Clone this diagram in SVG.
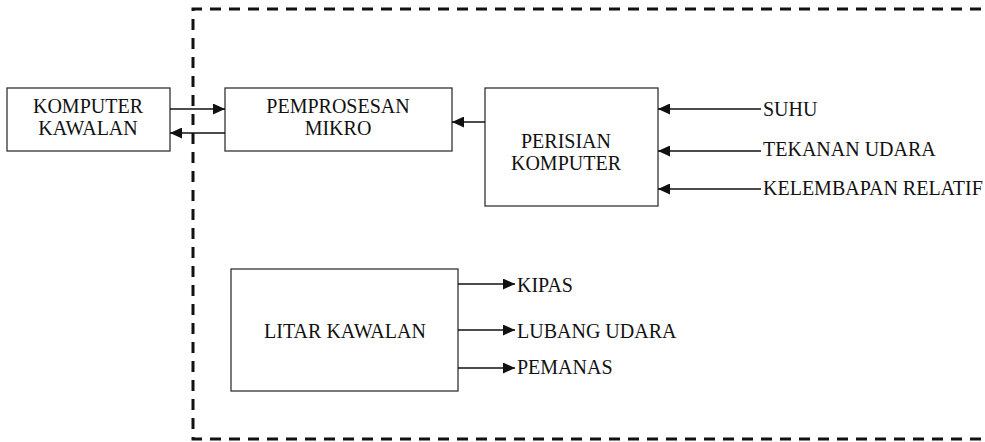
<svg xmlns="http://www.w3.org/2000/svg" width="985" height="442" viewBox="0 0 985 442">
<style>
.box{fill:#fff;stroke:#333;stroke-width:1.3}
.t{font-family:"Liberation Serif","Times New Roman",serif;font-size:20px;fill:#111}
.c{text-anchor:middle}
.ln{stroke:#111;stroke-width:1.6;fill:none}
.dash{fill:none;stroke:#111;stroke-width:3;stroke-dasharray:11 8}
</style>
<defs>
<marker id="ah" markerWidth="13" markerHeight="11" refX="12" refY="5.5" orient="auto" markerUnits="userSpaceOnUse">
<path d="M0,0 L12,5.5 L0,11 Z" fill="#111"/>
</marker>
</defs>
<rect width="985" height="442" fill="#fff"/>
<path class="dash" d="M1000,9 H193 V439 H1000"/>
<g id="komputer-kawalan">
<rect class="box" x="7" y="88" width="163" height="63"/>
<text class="t c" x="88" y="113">KOMPUTER</text>
<text class="t c" x="88" y="135">KAWALAN</text>
</g>
<g id="pemprosesan-mikro">
<rect class="box" x="225" y="88" width="227" height="63"/>
<text class="t c" x="338" y="113">PEMPROSESAN</text>
<text class="t c" x="338" y="135">MIKRO</text>
</g>
<g id="perisian-komputer">
<rect class="box" x="485" y="88" width="173" height="118"/>
<text class="t c" x="566" y="148">PERISIAN</text>
<text class="t c" x="566" y="170">KOMPUTER</text>
</g>
<g id="litar-kawalan">
<rect class="box" x="231" y="269" width="227" height="122"/>
<text class="t c" x="345" y="338">LITAR KAWALAN</text>
</g>
<g id="labels">
<text class="t" x="763" y="116">SUHU</text>
<text class="t" x="763" y="156">TEKANAN UDARA</text>
<text class="t" x="763" y="195">KELEMBAPAN RELATIF</text>
<text class="t" x="517" y="292">KIPAS</text>
<text class="t" x="517" y="338">LUBANG UDARA</text>
<text class="t" x="517" y="374">PEMANAS</text>
</g>
<g id="connectors">
<line class="ln" x1="170" y1="109" x2="225" y2="109" marker-end="url(#ah)"/>
<line class="ln" x1="225" y1="133" x2="170" y2="133" marker-end="url(#ah)"/>
<line class="ln" x1="485" y1="122" x2="452" y2="122" marker-end="url(#ah)"/>
<line class="ln" x1="761" y1="109" x2="658" y2="109" marker-end="url(#ah)"/>
<line class="ln" x1="761" y1="151" x2="658" y2="151" marker-end="url(#ah)"/>
<line class="ln" x1="761" y1="189" x2="658" y2="189" marker-end="url(#ah)"/>
<line class="ln" x1="458" y1="284" x2="515" y2="284" marker-end="url(#ah)"/>
<line class="ln" x1="458" y1="330" x2="515" y2="330" marker-end="url(#ah)"/>
<line class="ln" x1="458" y1="368" x2="515" y2="368" marker-end="url(#ah)"/>
</g>
</svg>
